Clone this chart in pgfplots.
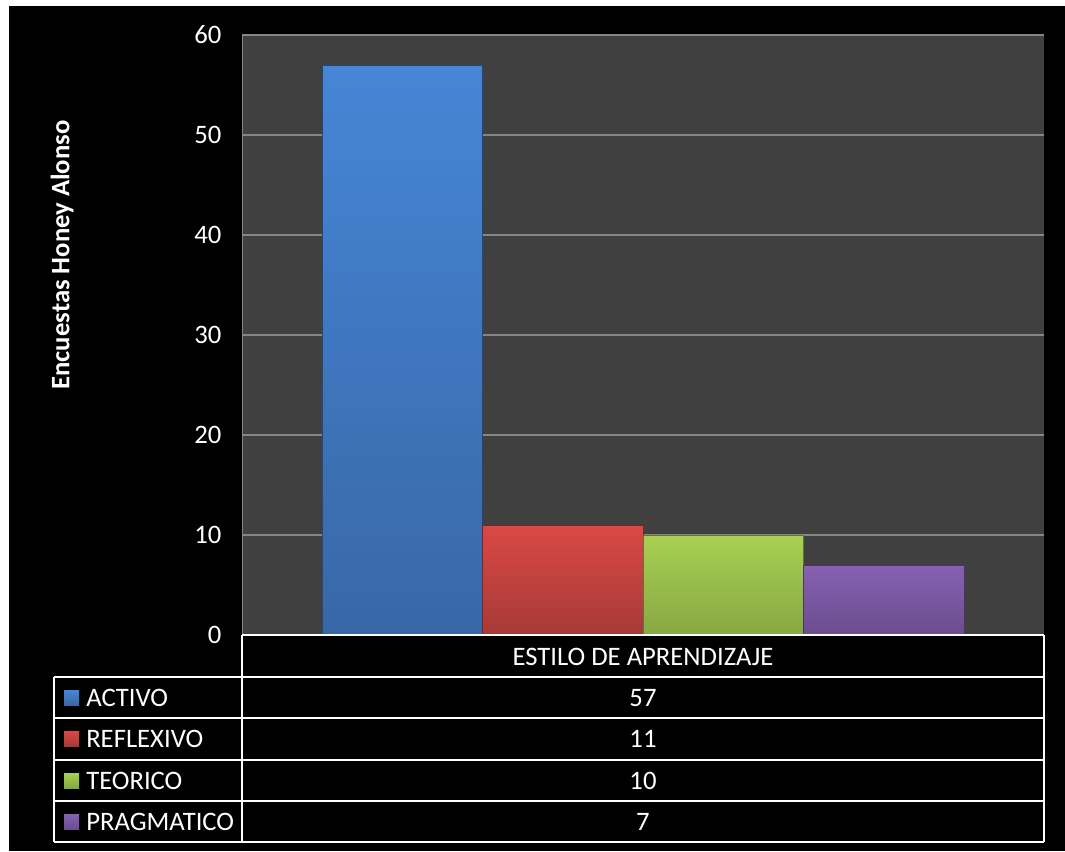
\documentclass[border=0pt]{standalone}
\usepackage{fontspec}
\setmainfont{Carlito}
\usepackage{pgfplots}
\pgfplotsset{compat=1.18}
\definecolor{bggray}{HTML}{404040}
\definecolor{gridgray}{HTML}{868686}
\definecolor{bluetop}{HTML}{4686D6}
\definecolor{bluebot}{HTML}{3867A6}
\definecolor{redtop}{HTML}{DB4845}
\definecolor{redbot}{HTML}{A63A37}
\definecolor{greentop}{HTML}{A9D052}
\definecolor{greenbot}{HTML}{87A843}
\definecolor{purptop}{HTML}{8761B2}
\definecolor{purpbot}{HTML}{6A4D8E}
\begin{document}
\begin{tikzpicture}[x=0.75pt,y=0.75pt]
\fill[white] (0,0) rectangle (1065,-851);
\fill[black] (9,-6) rectangle (1065,-851);
\begin{axis}[
  at={(181.5pt,-476.25pt)}, anchor=south west,
  width=601.5pt, height=450pt, scale only axis,
  xmin=0, xmax=5, ymin=0, ymax=60,
  ytick={0,10,...,60}, xtick=\empty,
  axis background/.style={fill=bggray},
  ymajorgrids, grid style={gridgray, line width=1.1pt},
  axis line style={draw=none},
  major tick length=0pt,
  yticklabel style={font=\fontsize{20}{24}\selectfont, text=white, xshift=-12pt},
  /pgf/number format/assume math mode=true,
]
\addplot[ybar, bar width=1, bar shift=0pt, draw=bluebot!70!black, top color=bluetop, bottom color=bluebot] coordinates {(1,57)};
\addplot[ybar, bar width=1, bar shift=0pt, draw=redbot!70!black, top color=redtop, bottom color=redbot] coordinates {(2,11)};
\addplot[ybar, bar width=1, bar shift=0pt, draw=greenbot!70!black, top color=greentop, bottom color=greenbot] coordinates {(3,10)};
\addplot[ybar, bar width=1, bar shift=0pt, draw=purpbot!70!black, top color=purptop, bottom color=purpbot] coordinates {(4,7)};
\draw[gridgray, line width=1.1pt] (rel axis cs:0,0) -- (rel axis cs:0,1);
\end{axis}
\node[rotate=90, font=\fontsize{20}{24}\selectfont\bfseries, text=white] at (62,-255) {Encuestas Honey Alonso};
% data table
\begin{scope}[white, line width=1.5pt]
\draw (242,-635) -- (1044,-635);
\draw (54,-677) -- (1044,-677);
\draw (54,-718) -- (1044,-718);
\draw (54,-760) -- (1044,-760);
\draw (54,-801) -- (1044,-801);
\draw (54,-842) -- (1044,-842);
\draw (242,-635) -- (242,-842);
\draw (1044,-635) -- (1044,-842);
\draw (54,-677) -- (54,-842);
\end{scope}
\begin{scope}[every node/.style={text=white, font=\fontsize{20}{24}\selectfont}]
\node at (643,-657) {ESTILO DE APRENDIZAJE};
\node at (643,-698) {57};
\node at (643,-739) {11};
\node at (643,-781) {10};
\node at (643,-822) {7};
\shade[top color=bluetop, bottom color=bluebot] (64,-690) rectangle (79,-705);
\shade[top color=redtop, bottom color=redbot] (64,-731) rectangle (79,-746);
\shade[top color=greentop, bottom color=greenbot] (64,-773) rectangle (79,-788);
\shade[top color=purptop, bottom color=purpbot] (64,-814) rectangle (79,-829);
\node[anchor=west, inner sep=0pt] at (86,-698) {ACTIVO};
\node[anchor=west, inner sep=0pt] at (86,-739) {REFLEXIVO};
\node[anchor=west, inner sep=0pt] at (86,-781) {TEORICO};
\node[anchor=west, inner sep=0pt] at (86,-822) {PRAGMATICO};
\end{scope}
\end{tikzpicture}
\end{document}
